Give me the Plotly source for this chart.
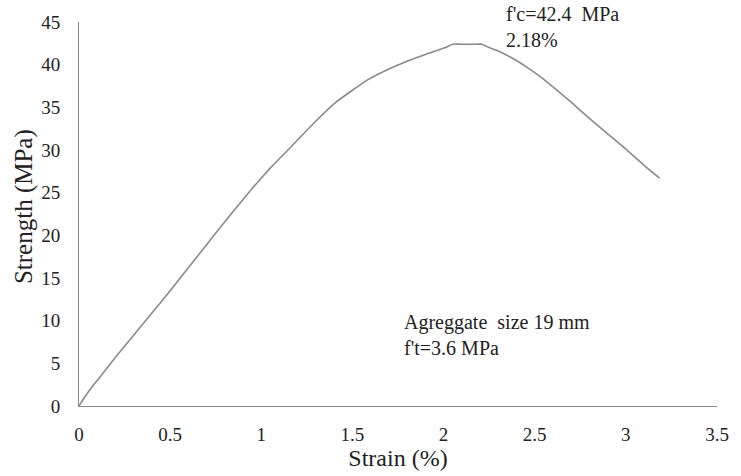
import plotly.graph_objects as go

# Stress-strain curve of concrete (aggregate size 19 mm)
strain = [0.0, 0.03, 0.07, 0.1, 0.2, 0.3, 0.4, 0.5, 0.6, 0.7, 0.8, 0.85, 0.9, 0.95,
          1.0, 1.05, 1.1, 1.16, 1.2, 1.3, 1.41, 1.5, 1.59, 1.7, 1.81, 1.9,
          2.01, 2.05, 2.1, 2.18, 2.21, 2.25, 2.3, 2.39, 2.45, 2.53, 2.6, 2.7,
          2.8, 2.9, 3.0, 3.1, 3.185]
strength = [0.0, 1.0, 2.2, 3.0, 5.7, 8.3, 10.9, 13.5, 16.2, 18.9, 21.6, 22.9, 24.2, 25.5,
            26.7, 27.9, 29.0, 30.3, 31.2, 33.4, 35.6, 37.0, 38.3, 39.5, 40.5, 41.2,
            42.0, 42.4, 42.4, 42.4, 42.4, 42.0, 41.6, 40.6, 39.8, 38.6, 37.4, 35.6,
            33.7, 31.9, 30.1, 28.2, 26.7]

x_ticks = [0, 0.5, 1, 1.5, 2, 2.5, 3, 3.5]
x_tick_labels = ["0", "0.5", "1", "1.5", "2", "2.5", "3", "3.5"]
y_ticks = [0, 5, 10, 15, 20, 25, 30, 35, 40, 45]

peak_label = "f'c=42.4  MPa<br>2.18%"
info_label = "Agreggate  size 19 mm<br>f't=3.6 MPa"
x_title = "Strain (%)"
y_title = "Strength (MPa)"

FONT = "Liberation Serif, Times New Roman, serif"
GREY = "#8a8a8a"
TEXT = "#222222"

fig = go.Figure()
fig.add_trace(go.Scatter(
    x=strain, y=strength, mode="lines",
    line=dict(color=GREY, width=1.6, shape="spline", smoothing=0.5),
    showlegend=False, hoverinfo="skip",
))

fig.add_annotation(
    x=2.33, y=44.4, xref="x", yref="y", text=peak_label,
    showarrow=False, xanchor="left", yanchor="middle", align="left",
    font=dict(family=FONT, size=20, color=TEXT),
)
fig.add_annotation(
    x=1.77, y=8.3, xref="x", yref="y", text=info_label,
    showarrow=False, xanchor="left", yanchor="middle", align="left",
    font=dict(family=FONT, size=20, color=TEXT),
)
# vertical axis title, placed beside the tick labels
fig.add_annotation(
    x=0, y=0.518, xref="paper", yref="paper", xshift=-55,
    text=y_title, textangle=-90, showarrow=False,
    xanchor="center", yanchor="middle",
    font=dict(family=FONT, size=25, color=TEXT),
)

axis_common = dict(
    showgrid=False, zeroline=False, showline=True,
    linecolor=GREY, linewidth=1, ticks="",
    tickfont=dict(family=FONT, size=19, color=TEXT),
)

fig.update_xaxes(
    range=[0, 3.5], tickvals=x_ticks, ticktext=x_tick_labels,
    ticklabelstandoff=11,
    title=dict(text=x_title, font=dict(family=FONT, size=24, color=TEXT),
               standoff=2),
    **axis_common,
)
fig.update_yaxes(
    range=[0, 45], tickvals=y_ticks,
    ticklabelstandoff=14,
    **axis_common,
)

fig.update_layout(
    width=741, height=476,
    margin=dict(l=79, r=15, t=14, b=66),
    plot_bgcolor="white", paper_bgcolor="white",
    font=dict(family=FONT),
)

fig.write_html("out.html")
